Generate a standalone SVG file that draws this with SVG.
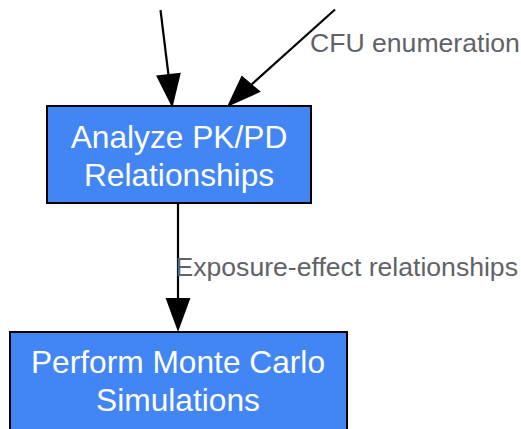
<svg xmlns="http://www.w3.org/2000/svg" width="521" height="429" viewBox="0 0 521 429">
<style>
.node rect{fill:#4285f4;stroke:#000;stroke-width:2}
.node text{fill:#fff;font-family:"Liberation Sans",Arial,sans-serif;font-size:31.7px;text-anchor:middle}
.edge line{stroke:#000;stroke-width:2.2}
.edge polygon{fill:#000;stroke:#000;stroke-width:2}
.lbl{fill:#5f6368;font-family:"Liberation Sans",Arial,sans-serif;font-size:26.6px}
</style>
<rect width="521" height="429" fill="#fff"/>
<g id="connectors">
<g class="edge">
<line x1="160.5" y1="10" x2="168.6" y2="76"/>
<polygon points="172,105 157.6,76.4 179.5,73.9"/>
</g>
<g class="edge">
<line x1="335" y1="9.5" x2="251" y2="85"/>
<polygon points="229,105 242,77 259,91.5"/>
<text class="lbl" x="310" y="52">CFU enumeration</text>
</g>
<g class="edge">
<line x1="178" y1="204" x2="178" y2="300"/>
<polygon points="178,329 167,299 189,299"/>
<text class="lbl" x="175.5" y="276">Exposure-effect relationships</text>
</g>
</g>
<g id="node-analyze" class="node">
<rect x="47" y="106" width="264" height="97"/>
<text x="179" y="148">Analyze PK/PD</text>
<text x="179" y="186">Relationships</text>
</g>
<g id="node-montecarlo" class="node">
<rect x="10" y="332" width="337" height="110"/>
<text x="178" y="373">Perform Monte Carlo</text>
<text x="178" y="411">Simulations</text>
</g>
</svg>
